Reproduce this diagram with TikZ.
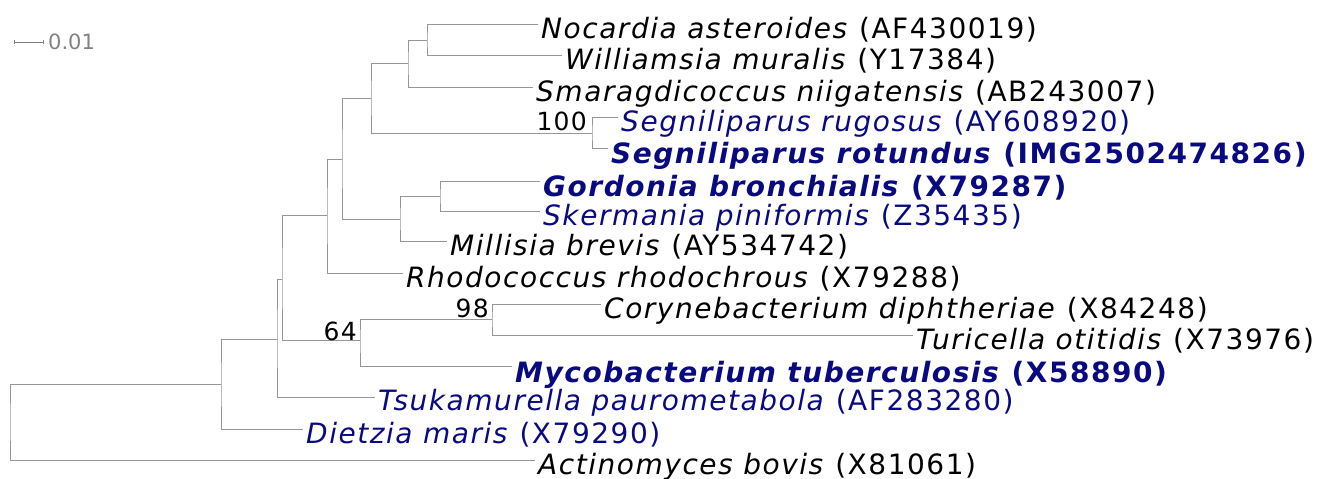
\documentclass[tikz,border=0pt]{standalone}
\usepackage{fontspec}
\setmainfont{DejaVu Sans}
\newfontfamily\leaffont{DejaVu Sans}[LetterSpace=5.5]
\newfontfamily\supfont{DejaVu Sans}[LetterSpace=5]
\definecolor{navyblue}{RGB}{10,10,128}
\definecolor{branchgrey}{RGB}{150,150,150}
\definecolor{scalegrey}{RGB}{130,130,130}
\tikzset{
  br/.style={draw=branchgrey, line width=1pt},
  leaf/.style={anchor=base west, inner sep=0pt, font=\leaffont\fontsize{28}{30}\selectfont},
  blueleaf/.style={leaf, text=navyblue},
  boldleaf/.style={leaf, text=navyblue, font=\leaffont\fontsize{28}{30}\selectfont\bfseries},
  support/.style={anchor=base east, inner sep=0pt, font=\supfont\fontsize{25}{27}\selectfont},
}
\begin{document}
\begin{tikzpicture}[x=1pt,y=-1pt]
\useasboundingbox (0,0) rectangle (1322,479);
% internal nodes
\coordinate (root) at (10,422);
\coordinate (nA) at (221,384);
\coordinate (nB) at (277,339);
\coordinate (nC) at (282,279);
\coordinate (nD) at (327,215);
\coordinate (nE) at (342,159);
\coordinate (nF) at (371,98);
\coordinate (nH) at (408,63);
\coordinate (nI) at (427,40);
\coordinate (n100) at (592,133);
\coordinate (nG) at (400,219);
\coordinate (nJ) at (440,196);
\coordinate (n64) at (360,340);
\coordinate (n98) at (492,319);
% leaf line ends
\coordinate (eNoc) at (538,24);
\coordinate (eWil) at (562,55);
\coordinate (eSma) at (533,87);
\coordinate (eRug) at (618,117);
\coordinate (eRot) at (608,148);
\coordinate (eGor) at (540,181);
\coordinate (eSke) at (540,211);
\coordinate (eMil) at (447,241);
\coordinate (eRho) at (403,273);
\coordinate (eCor) at (601,304);
\coordinate (eTur) at (913,335);
\coordinate (eMyc) at (512,366);
\coordinate (eTsu) at (375,397);
\coordinate (eDie) at (303,429);
\coordinate (eAct) at (535,460);
% leaf labels
\node[leaf] (tNoc) at ([shift={(3,14.5)}]eNoc) {\textit{Nocardia asteroides} (AF430019)};
\node[leaf] (tWil) at ([shift={(3,14.5)}]eWil) {\textit{Williamsia muralis} (Y17384)};
\node[leaf] (tSma) at ([shift={(3,14.5)}]eSma) {\textit{Smaragdicoccus niigatensis} (AB243007)};
\node[blueleaf] (tRug) at ([shift={(3,14.5)}]eRug) {\textit{Segniliparus rugosus} (AY608920)};
\node[boldleaf] (tRot) at ([shift={(3,15.5)}]eRot) {\textit{Segniliparus rotundus} (IMG2502474826)};
\node[boldleaf] (tGor) at ([shift={(3,15.5)}]eGor) {\textit{Gordonia bronchialis} (X79287)};
\node[blueleaf] (tSke) at ([shift={(3,14.5)}]eSke) {\textit{Skermania piniformis} (Z35435)};
\node[leaf] (tMil) at ([shift={(3,14.5)}]eMil) {\textit{Millisia brevis} (AY534742)};
\node[leaf] (tRho) at ([shift={(3,14.5)}]eRho) {\textit{Rhodococcus rhodochrous} (X79288)};
\node[leaf] (tCor) at ([shift={(3,14.5)}]eCor) {\textit{Corynebacterium diphtheriae} (X84248)};
\node[leaf] (tTur) at ([shift={(3,14.5)}]eTur) {\textit{Turicella otitidis} (X73976)};
\node[boldleaf] (tMyc) at ([shift={(3,16)}]eMyc) {\textit{Mycobacterium tuberculosis} (X58890)};
\node[blueleaf] (tTsu) at ([shift={(3,13.5)}]eTsu) {\textit{Tsukamurella paurometabola} (AF283280)};
\node[blueleaf] (tDie) at ([shift={(3,14)}]eDie) {\textit{Dietzia maris} (X79290)};
\node[leaf] (tAct) at ([shift={(3,14.5)}]eAct) {\textit{Actinomyces bovis} (X81061)};
% branches
\draw[br] (nA) -| (root) |- (eAct);
\draw[br] (nB) -| (nA) |- (eDie);
\draw[br] (nC) -| (nB) |- (eTsu);
\draw[br] (nD) -| (nC) |- (n64);
\draw[br] (nE) -| (nD) |- (eRho);
\draw[br] (nF) -| (nE) |- (nG);
\draw[br] (nH) -| (nF) |- (n100);
\draw[br] (nI) -| (nH) |- (eSma);
\draw[br] (eNoc) -| (nI) |- (eWil);
\draw[br] (eRug) -| (n100) |- (eRot);
\draw[br] (nJ) -| (nG) |- (eMil);
\draw[br] (eGor) -| (nJ) |- (eSke);
\draw[br] (n98) -| (n64) |- (eMyc);
\draw[br] (eCor) -| (n98) |- (eTur);
% support values
\node[support] (s100) at ([shift={(-5,-3)}]n100) {100};
\node[support] (s98) at ([shift={(-3,-2)}]n98) {98};
\node[support] (s64) at ([shift={(-3,0)}]n64) {64};
% scale bar
\coordinate (sb1) at (14,42);
\coordinate (sb2) at (43,42);
\draw[draw=scalegrey, line width=0.8pt] (sb1) -- (sb2);
\draw[draw=scalegrey, line width=0.8pt] ([yshift=-2]sb1) -- ([yshift=2]sb1);
\draw[draw=scalegrey, line width=0.8pt] ([yshift=-2]sb2) -- ([yshift=2]sb2);
\node[anchor=base west, inner sep=0pt, text=scalegrey, font=\fontsize{21}{23}\selectfont] (sbt) at (48,49) {0.01};
\end{tikzpicture}
\end{document}
